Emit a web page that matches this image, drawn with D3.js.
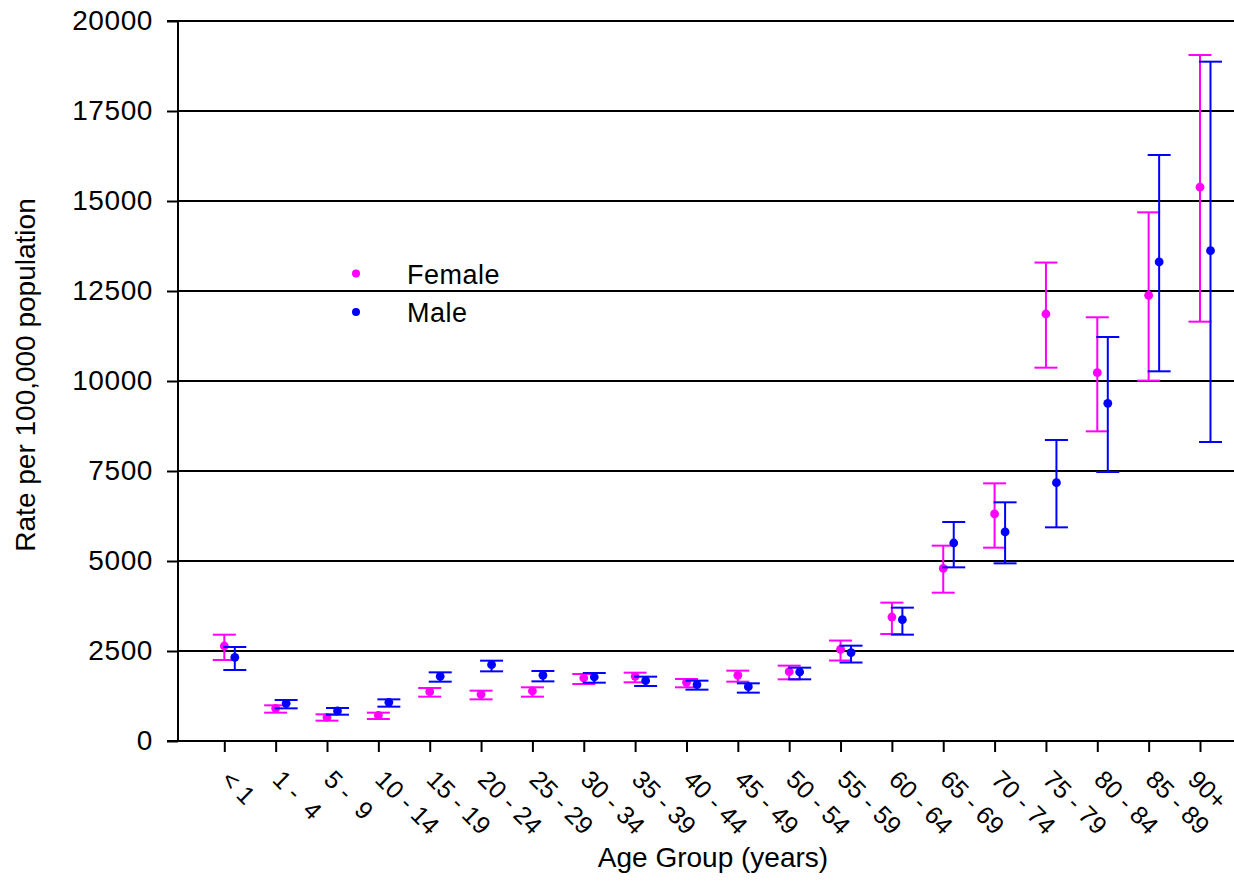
<!DOCTYPE html>
<html>
<head>
<meta charset="utf-8">
<script src="https://cdn.jsdelivr.net/npm/d3@7"></script>
<style>
  html, body { margin: 0; padding: 0; background: #fff; }
  svg { display: block; }
  text { font-family: "Liberation Sans", Arial, sans-serif; fill: #000; }
</style>
</head>
<body>
<svg id="chart" width="1234" height="882"></svg>
<script>
const categories = ["< 1", "1 -  4", "5 -  9", "10 - 14", "15 - 19", "20 - 24", "25 - 29", "30 - 34", "35 - 39", "40 - 44",
  "45 - 49", "50 - 54", "55 - 59", "60 - 64", "65 - 69", "70 - 74", "75 - 79", "80 - 84", "85 - 89", "90+"];

const femaleRate  = [2639, 907, 657, 713, 1370, 1296, 1389, 1750, 1796, 1630, 1824, 1926, 2546, 3444, 4796, 6306, 11861, 10230, 12380, 15385];
const femaleLower = [2250, 787, 565, 611, 1231, 1157, 1231, 1583, 1630, 1491, 1648, 1713, 2236, 2972, 4120, 5370, 10370, 8602, 10010, 11648];
const femaleUpper = [2953, 991, 741, 787, 1472, 1398, 1491, 1861, 1898, 1722, 1954, 2093, 2790, 3843, 5426, 7157, 13290, 11770, 14685, 19056];

const maleRate  = [2324, 1046, 833, 1074, 1796, 2120, 1824, 1778, 1676, 1565, 1509, 1917, 2454, 3370, 5500, 5806, 7176, 9380, 13306, 13620];
const maleLower = [1972, 907, 731, 954, 1648, 1935, 1657, 1620, 1528, 1426, 1343, 1713, 2180, 2954, 4824, 4935, 5935, 7472, 10269, 8306];
const maleUpper = [2611, 1139, 917, 1157, 1907, 2231, 1944, 1889, 1787, 1676, 1602, 2037, 2648, 3704, 6083, 6630, 8361, 11222, 16278, 18870];

const yTicks = [0, 2500, 5000, 7500, 10000, 12500, 15000, 17500, 20000];

const seriesNames = ["Female", "Male"];
const seriesColors = ["#ff00ff", "#0000ff"];

const svg = d3.select("#chart");
const axisLeftX = 178, plotRight = 1234, tickStart = 167;

const x = d3.scalePoint().domain(categories).range([224.3, 1200]);
const y = d3.scaleLinear().domain([0, 20000]).range([741, 21]);

// gridlines
svg.append("g").selectAll("line").data(yTicks.filter(d => d > 0)).join("line")
  .attr("x1", axisLeftX).attr("x2", plotRight)
  .attr("y1", d => y(d)).attr("y2", d => y(d))
  .attr("stroke", "#000").attr("stroke-width", 2);

// y axis
const yAxis = d3.axisLeft(y).tickValues(yTicks).tickSize(11).tickPadding(14).tickFormat(d3.format("d"));
const gy = svg.append("g").attr("transform", `translate(${axisLeftX},0)`).call(yAxis);
gy.select(".domain").attr("stroke", "#000").attr("stroke-width", 2).attr("d", `M-11,${y(20000)}H0V${y(0)}`);
gy.selectAll(".tick line").attr("stroke", "#000").attr("stroke-width", 2);
gy.selectAll(".tick text").attr("font-size", 28).attr("letter-spacing", 0.6)
  .attr("font-family", "Liberation Sans, Arial, sans-serif").attr("fill", "#000");

// x axis
const xAxis = d3.axisBottom(x).tickSize(11).tickFormat(d => d);
const gx = svg.append("g").attr("transform", `translate(0,${y(0)})`).call(xAxis);
gx.select(".domain").attr("stroke", "#000").attr("stroke-width", 2).attr("d", `M${tickStart},0H${plotRight}`);
gx.selectAll(".tick line").attr("stroke", "#000").attr("stroke-width", 2);
gx.selectAll(".tick text")
  .attr("font-size", 25).attr("font-family", "Liberation Sans, Arial, sans-serif").attr("fill", "#000")
  .attr("text-anchor", "start").attr("dy", null).attr("y", null)
  .attr("transform", (d, i, n) => i === n.length - 1 ? "translate(-14,40) rotate(45)" : "translate(-5,40) rotate(45)")
  .style("white-space", "pre").attr("xml:space", "preserve");

// error bars
const series = [
  { name: "Female", rate: femaleRate, lo: femaleLower, hi: femaleUpper, color: seriesColors[0], off: 0 },
  { name: "Male", rate: maleRate, lo: maleLower, hi: maleUpper, color: seriesColors[1], off: 10.5 }
];
const capHalf = 11.5;
series.forEach(s => {
  const g = svg.append("g");
  const data = categories.map((c, i) => ({ c, v: s.rate[i], lo: s.lo[i], hi: s.hi[i] }));
  const cx = d => x(d.c) + s.off;
  g.selectAll("line.v").data(data).join("line").attr("class", "v")
    .attr("x1", cx).attr("x2", cx).attr("y1", d => y(d.lo)).attr("y2", d => y(d.hi))
    .attr("stroke", s.color).attr("stroke-width", 2);
  g.selectAll("line.hi").data(data).join("line").attr("class", "hi")
    .attr("x1", d => cx(d) - capHalf).attr("x2", d => cx(d) + capHalf)
    .attr("y1", d => y(d.hi)).attr("y2", d => y(d.hi))
    .attr("stroke", s.color).attr("stroke-width", 2);
  g.selectAll("line.lo").data(data).join("line").attr("class", "lo")
    .attr("x1", d => cx(d) - capHalf).attr("x2", d => cx(d) + capHalf)
    .attr("y1", d => y(d.lo)).attr("y2", d => y(d.lo))
    .attr("stroke", s.color).attr("stroke-width", 2);
  g.selectAll("circle").data(data).join("circle")
    .attr("cx", cx).attr("cy", d => y(d.v)).attr("r", 4.4)
    .attr("fill", s.color);
});

// legend
const legend = svg.append("g");
seriesNames.forEach((n, i) => {
  const ly = 273.5 + i * 38.5;
  legend.append("circle").attr("cx", 356).attr("cy", ly).attr("r", 4).attr("fill", seriesColors[i]);
  legend.append("text").attr("x", 407).attr("y", ly + 10).attr("font-size", 27).attr("letter-spacing", 0.5).text(n);
});

// axis titles
svg.append("text").attr("x", 713).attr("y", 867).attr("text-anchor", "middle").attr("font-size", 28)
  .text("Age Group (years)");
svg.append("text").attr("transform", "translate(35,375) rotate(-90)").attr("text-anchor", "middle").attr("font-size", 28)
  .text("Rate per 100,000 population");
</script>
</body>
</html>
